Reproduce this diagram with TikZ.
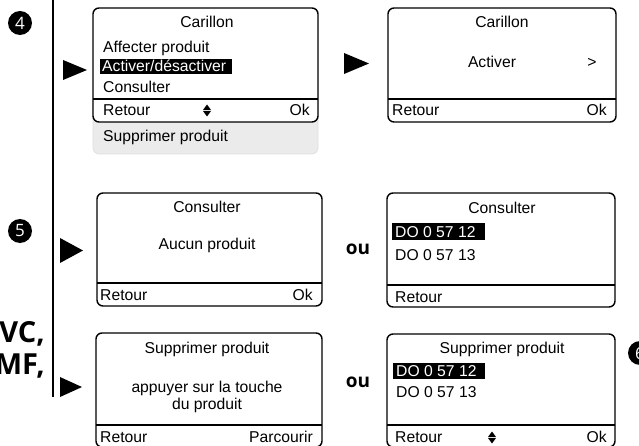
\documentclass[tikz,border=0pt]{standalone}
\usepackage{fontspec}
\setmainfont{Liberation Sans}
\newfontfamily\headfont{Open Sans}
\begin{document}
\begin{tikzpicture}[x=1pt,y=-1pt,
  screen/.style={draw=black, line width=1.4pt, rounded corners=6pt, fill=white},
  sep/.style={line width=1.4pt},
  txt/.style={font=\fontsize{15.7}{17}\selectfont, inner sep=0pt},
  hl/.style={fill=black},
  hltxt/.style={txt, text=white},
  play/.style={fill=black},
  stepnum/.style={circle, fill=black, text=white, inner sep=0pt, minimum size=24pt, font=\headfont\fontsize{17}{17}\selectfont},
  ou/.style={font=\headfont\bfseries\fontsize{19}{19}\selectfont, inner sep=0pt},
  big/.style={font=\headfont\bfseries\fontsize{29}{29}\selectfont, inner sep=0pt, anchor=base east}
]
\useasboundingbox (0,0) rectangle (639,446);
\begin{scope}
\clip (0,0) rectangle (639,446);
% left rule
\draw[line width=1.2pt] (53,-2) coordinate (rtop) -- (53,397) coordinate (rbot);
% step numbers
\node[stepnum] (n4) at (20,23) {4};
\node[stepnum] (n5) at (20,231) {5};
\node[stepnum] (n6) at (640,353) {6};
\node[big] (vc) at (45,342) {VC,};
\node[big] (mf) at (45,374) {MF,};
% play triangles
\fill[play] (63,60) -- (87,70) -- (63,80) -- cycle;
\fill[play] (344,53) -- (369,63.5) -- (344,74) -- cycle;
\fill[play] (60,238) -- (83,250.5) -- (60,263) -- cycle;
\fill[play] (60,377) -- (82,387) -- (60,397) -- cycle;

% ---- screen 1 ----
\fill[rounded corners=6pt, fill=black!8, draw=black!13, line width=0.6pt] (93,95) rectangle (318,154);
\draw[screen] (93,8) rectangle (318,122);
\draw[sep] (93,99) -- (318,99);
\node[txt, anchor=base] (c1) at (207,27.5) {Carillon};
\node[txt, anchor=base west] (c1a) at (103,52.5) {Affecter produit};
\fill[hl] (100,59) rectangle (232,74);
\node[hltxt, anchor=base west] (c1b) at (102,71.5) {Activer/désactiver};
\node[txt, anchor=base west] (c1c) at (103,92.5) {Consulter};
\node[txt, anchor=base west] (c1r) at (103,115.5) {Retour};
\node[txt, anchor=base east] (c1o) at (310,115.5) {Ok};
\fill (203,110) -- (207,104.5) -- (211,110) -- cycle;
\fill (203,111) -- (207,116.5) -- (211,111) -- cycle;
\node[txt, anchor=base west] (c1s) at (103,141.5) {Supprimer produit};

% ---- screen 2 ----
\draw[screen] (388,8) rectangle (616,122);
\draw[sep] (388,99) -- (616,99);
\node[txt, anchor=base] (c2) at (502,27.5) {Carillon};
\node[txt, anchor=base] (c2a) at (492,67.5) {Activer};
\node[txt, anchor=base] (c2g) at (592,67.5) {>};
\node[txt, anchor=base west] (c2r) at (392,115.5) {Retour};
\node[txt, anchor=base east] (c2o) at (607,115.5) {Ok};

% ---- screen 3 ----
\draw[screen] (97,193) rectangle (322,306);
\draw[sep] (97,283) -- (322,283);
\node[txt, anchor=base] (c3) at (207,212.5) {Consulter};
\node[txt, anchor=base] (c3a) at (207,249.5) {Aucun produit};
\node[txt, anchor=base west] (c3r) at (100,300.5) {Retour};
\node[txt, anchor=base east] (c3o) at (313,300.5) {Ok};

\node[ou] (ou1) at (358,249) {ou};

% ---- screen 4 ----
\draw[screen] (387,193) rectangle (615,307);
\draw[sep] (387,285) -- (615,285);
\node[txt, anchor=base] (c4) at (502,213.5) {Consulter};
\fill[hl] (392,223) rectangle (485,240);
\node[hltxt, anchor=base west] (c4a) at (395,237) {DO 0 57 12};
\node[txt, anchor=base west] (c4b) at (395,260) {DO 0 57 13};
\node[txt, anchor=base west] (c4r) at (395,302.5) {Retour};

% ---- screen 5 ----
\draw[screen] (96,333) rectangle (322,447);
\draw[sep] (96,425) -- (322,425);
\node[txt, anchor=base] (c5) at (207,353.5) {Supprimer produit};
\node[txt, anchor=base] (c5a) at (207,392.5) {appuyer sur la touche};
\node[txt, anchor=base] (c5b) at (207,409.5) {du produit};
\node[txt, anchor=base west] (c5r) at (100,442.5) {Retour};
\node[txt, anchor=base east] (c5o) at (313,442.5) {Parcourir};

\node[ou] (ou2) at (358,382) {ou};

% ---- screen 6 ----
\draw[screen] (387,334) rectangle (615,447);
\draw[sep] (387,425) -- (615,425);
\node[txt, anchor=base] (c6) at (502,353.5) {Supprimer produit};
\fill[hl] (393,363) rectangle (485,379);
\node[hltxt, anchor=base west] (c6a) at (396,376) {DO 0 57 12};
\node[txt, anchor=base west] (c6b) at (396,397.5) {DO 0 57 13};
\node[txt, anchor=base west] (c6r) at (395,442.5) {Retour};
\fill (488,437) -- (492,431.5) -- (496,437) -- cycle;
\fill (488,438) -- (492,443.5) -- (496,438) -- cycle;
\node[txt, anchor=base east] (c6o) at (607,442.5) {Ok};
\end{scope}
\end{tikzpicture}
\end{document}
